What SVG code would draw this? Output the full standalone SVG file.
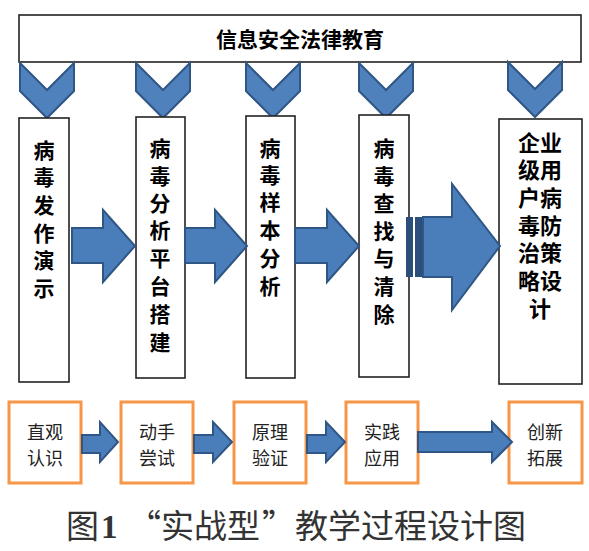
<svg xmlns="http://www.w3.org/2000/svg" width="589" height="551" viewBox="0 0 589 551">
<style>
.box{fill:#fff;stroke:#222;stroke-width:1.6}
.obox{fill:#fff;stroke:#f79646;stroke-width:3}
.chev{fill:#4f81bd;stroke:#2f5684;stroke-width:2;stroke-linejoin:miter}
.arr{fill:#4a7ebb;stroke:#2f5684;stroke-width:2}
.stripe{fill:#2c4e7a}
.vt{font-family:"Noto Sans CJK SC","Noto Sans CJK JP",sans-serif;font-weight:bold;font-size:21px;fill:#000;text-anchor:middle}
.bt{font-family:"Noto Sans CJK SC","Noto Sans CJK JP",sans-serif;font-size:18px;fill:#222;text-anchor:middle}
.cap{font-family:"Noto Sans CJK SC","Noto Sans CJK JP",sans-serif;font-size:33px;fill:#333}
</style>
<defs>
<path id="chevron" d="M-27,0 L0,27 L27,0 L27,28 L0,55 L-27,28 Z"/>
</defs>
<rect width="589" height="551" fill="#fff"/>

<g id="top">
<rect class="box" x="19" y="15" width="562" height="47"/>
<text x="300" y="47" class="vt" style="font-size:21px">信息安全法律教育</text>
</g>

<g id="chevrons">
<use href="#chevron" class="chev" x="47" y="63"/>
<use href="#chevron" class="chev" x="163" y="63"/>
<use href="#chevron" class="chev" x="273" y="63"/>
<use href="#chevron" class="chev" x="386" y="63"/>
<use href="#chevron" class="chev" x="535" y="62"/>
</g>

<g id="n1">
<rect class="box" x="19" y="118" width="50" height="264"/>
<text class="vt" x="44"><tspan x="44" y="158">病</tspan><tspan x="44" y="185">毒</tspan><tspan x="44" y="213">发</tspan><tspan x="44" y="241">作</tspan><tspan x="44" y="268">演</tspan><tspan x="44" y="296">示</tspan></text>
</g>
<g id="n2">
<rect class="box" x="136" y="117" width="49" height="261"/>
<text class="vt"><tspan x="160" y="156">病</tspan><tspan x="160" y="184">毒</tspan><tspan x="160" y="211">分</tspan><tspan x="160" y="238">析</tspan><tspan x="160" y="266">平</tspan><tspan x="160" y="294">台</tspan><tspan x="160" y="322">搭</tspan><tspan x="160" y="350">建</tspan></text>
</g>
<g id="n3">
<rect class="box" x="246" y="116" width="49" height="262"/>
<text class="vt"><tspan x="270" y="156">病</tspan><tspan x="270" y="183">毒</tspan><tspan x="270" y="210">样</tspan><tspan x="270" y="238">本</tspan><tspan x="270" y="266">分</tspan><tspan x="270" y="294">析</tspan></text>
</g>
<g id="n4">
<rect class="box" x="359" y="115" width="50" height="262"/>
<text class="vt"><tspan x="384" y="156">病</tspan><tspan x="384" y="184">毒</tspan><tspan x="384" y="211">查</tspan><tspan x="384" y="239">找</tspan><tspan x="384" y="266">与</tspan><tspan x="384" y="294">清</tspan><tspan x="384" y="322">除</tspan></text>
</g>
<g id="n5">
<rect class="box" x="499" y="119" width="83" height="265"/>
<text class="vt" style="font-size:22px"><tspan x="540" y="151">企业</tspan><tspan x="540" y="178">级用</tspan><tspan x="540" y="206">户病</tspan><tspan x="540" y="234">毒防</tspan><tspan x="540" y="261">治策</tspan><tspan x="540" y="289">略设</tspan><tspan x="540" y="317">计</tspan></text>
</g>

<g id="b1"><rect class="obox" x="9" y="402" width="72" height="81"/><text class="bt"><tspan x="45" y="439">直观</tspan><tspan x="45" y="465">认识</tspan></text></g>
<g id="b2"><rect class="obox" x="121" y="402" width="72" height="81"/><text class="bt"><tspan x="157" y="439">动手</tspan><tspan x="157" y="465">尝试</tspan></text></g>
<g id="b3"><rect class="obox" x="234" y="402" width="72" height="81"/><text class="bt"><tspan x="270" y="439">原理</tspan><tspan x="270" y="465">验证</tspan></text></g>
<g id="b4"><rect class="obox" x="346" y="402" width="72" height="81"/><text class="bt"><tspan x="382" y="439">实践</tspan><tspan x="382" y="465">应用</tspan></text></g>
<g id="b5"><rect class="obox" x="509" y="402" width="73" height="81"/><text class="bt"><tspan x="545" y="439">创新</tspan><tspan x="545" y="465">拓展</tspan></text></g>

<g id="connectors">
<path class="arr" d="M72,228 H103 V210 L135,246 L103,282 V263 H72 Z"/>
<path class="arr" d="M185,228 H215 V210 L247,246 L215,282 V263 H185 Z"/>
<path class="arr" d="M295,228 H327 V210 L359,246 L327,282 V263 H295 Z"/>
<rect class="stripe" x="406" y="217" width="7" height="60"/>
<rect class="stripe" x="415" y="217" width="7" height="60"/>
<path class="arr" d="M423,217 H452 V184 L500,246 L452,310 V277 H423 Z"/>

<path class="arr" d="M82,435 H100 V422 L118,442 L100,462 V453 H82 Z"/>
<path class="arr" d="M194,435 H213 V422 L232,442 L213,462 V453 H194 Z"/>
<path class="arr" d="M307,435 H326 V422 L345,442 L326,462 V453 H307 Z"/>
<path class="arr" d="M418,432 H492 V422 L512,442 L492,462 V452 H418 Z"/>
</g>

<g id="caption">
<text class="cap" y="538"><tspan x="66">图</tspan><tspan x="101" font-family="Liberation Serif" font-weight="bold">1</tspan><tspan x="128">“实战型</tspan><tspan x="262">”教学过程设计图</tspan></text>
</g>
</svg>
